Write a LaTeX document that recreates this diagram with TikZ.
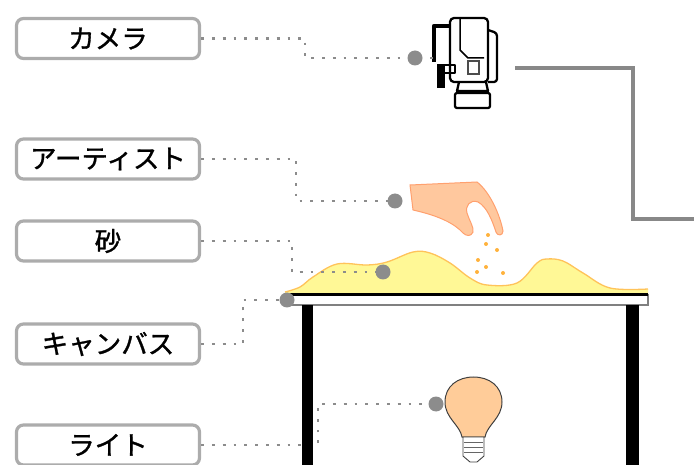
\documentclass[tikz,border=0pt]{standalone}
\usepackage{fontspec}
\newfontfamily\jpfont[FakeBold=1.2]{Noto Sans CJK JP}
\definecolor{boxgray}{RGB}{172,172,172}
\definecolor{dotgray}{RGB}{140,140,140}
\definecolor{linegray}{RGB}{136,136,136}
\definecolor{sandfill}{RGB}{255,248,150}
\definecolor{sandedge}{RGB}{255,195,90}
\definecolor{skin}{RGB}{255,200,158}
\definecolor{skinedge}{RGB}{255,160,110}
\definecolor{grain}{RGB}{255,178,60}
\definecolor{bulbfill}{RGB}{255,204,153}
\begin{document}
\begin{tikzpicture}[x=1pt,y=-1pt,
  lbl/.style={draw=boxgray, line width=3.2pt, rounded corners=7pt, fill=white,
    minimum width=183pt, minimum height=40pt, inner sep=0pt,
    font=\jpfont\fontsize{26.5}{30}\selectfont, text=black},
  conn/.style={draw=dotgray, line width=2.8pt, dash pattern=on 2.8pt off 8pt},
  pin/.style={circle, fill=dotgray, minimum size=15pt, inner sep=0pt},
  cam/.style={draw=black, line width=2.3pt, line join=round},
]
\useasboundingbox (0,0) rectangle (694,465);

% labels
\node[lbl] (camlbl) at (108,38.5) {カメラ};
\node[lbl] (artlbl) at (108,159) {アーティスト};
\node[lbl] (sandlbl) at (108,241) {砂};
\node[lbl] (canlbl) at (108,344) {キャンバス};
\node[lbl] (litlbl) at (108,445) {ライト};

% bend points of the leader lines
\coordinate (camk) at (305,48);
\coordinate (artk) at (296,180);
\coordinate (sandk) at (292,256);
\coordinate (cank) at (243,320);
\coordinate (litk) at (318,425);

% output line from the camera
\coordinate (camout) at (515,68);
\coordinate (lineturn) at (633,140);
\coordinate (lineend) at (694,219);
\draw[linegray, line width=3.2pt] (camout) -| (lineturn) |- (lineend);

% sand heap
\fill[sandfill] plot[smooth, tension=0.6] coordinates {(285,292) (300,287) (313,277) (337,264) (367,265) (387,262) (413,252) (430,253) (450,263) (470,278) (487,285) (517,283) (537,263) (547,259) (563,261) (583,273) (610,288) (648,289)} -- (648,294) -- (285,294) -- cycle;
\draw[sandedge, line width=1.3pt] plot[smooth, tension=0.6] coordinates {(285,292) (300,287) (313,277) (337,264) (367,265) (387,262) (413,252) (430,253) (450,263) (470,278) (487,285) (517,283) (537,263) (547,259) (563,261) (583,273) (610,288) (648,289)};

% table top
\draw[draw=gray, line width=1.2pt, fill=white] (288,294.5) rectangle (648,305);
\draw[black, line width=2.2pt] (288,294.5) -- (648,294.5);

% hand
\filldraw[fill=skin, draw=skinedge, line width=1pt]
  (410,185) -- (477,182)
  .. controls (490,192) and (500,215) .. (503,231)
  .. controls (503,236) and (497,236) .. (496,232)
  .. controls (492,220) and (487,207) .. (478,202)
  .. controls (470,199) and (465,206) .. (467,213)
  .. controls (469,220) and (474,227) .. (473,232)
  .. controls (471,237) and (466,236) .. (463,233)
  .. controls (455,224) and (440,216) .. (413,210) -- cycle;

% falling grains
\foreach \p in {(488,235),(486,244),(497,250),(478,260),(486,267),(477,272),(503,273)}
  \fill[grain] \p circle (2);

% light bulb
\filldraw[fill=bulbfill, draw=black!75, line width=1pt]
  (462,437) .. controls (460,425) and (445,418) .. (445,402)
  .. controls (445,386) and (458,377) .. (473.5,377)
  .. controls (489,377) and (502,386) .. (502,402)
  .. controls (502,418) and (487,425) .. (485,437) -- cycle;
\filldraw[fill=white, draw=black!75, line width=0.9pt]
  (463,437) -- (484,437) -- (484,456) -- (477,462) -- (470,462) -- (463,456) -- cycle;
\foreach \yy in {442,447,452}
  \draw[black!60, line width=0.8pt] (464,\yy) -- (483,\yy);

% video camera
\draw[cam, rounded corners=4pt] (450,82) -- (450,18) -- (488,18) -- (488,82) -- cycle;
\draw[cam, rounded corners=3pt] (488,30) -- (497,33) -- (497,82) -- (488,82);
\draw[cam, line width=1.5pt] (460,19) -- (460,50) -- (468,58) -- (484,58);
\draw[black!70, line width=1.5pt] (468,61) rectangle (479,74);
\draw[black, line width=4.5pt, line join=round] (434,62) -- (434,26) -- (450,26);
\draw[cam] (440,65) rectangle (455,73);
\fill[black] (437,64) rectangle (445,88);
\draw[cam] (459,82) -- (457,91) -- (488,91) -- (486,82);
\draw[cam, rounded corners=2pt] (455,93) rectangle (490,108);

% leader lines
\draw[conn] (camlbl.east) -| (camk) |- (436,58);
\draw[conn] (artlbl.east) -| (artk) |- (395,201);
\draw[conn] (sandlbl.east) -| (sandk) |- (383,272);
\draw[conn] (canlbl.east) -| (cank) |- (287,300);
\draw[conn] (litlbl.east) -| (litk) |- (436,404);

% table legs
\fill[black] (302,305.5) rectangle (313,466);
\fill[black] (626,305.5) rectangle (639,466);

% pins
\node[pin] (campin) at (415,58) {};
\node[pin] (artpin) at (395,201) {};
\node[pin] (sandpin) at (383,272) {};
\node[pin] (canpin) at (287,300) {};
\node[pin] (litpin) at (436,404) {};
\end{tikzpicture}
\end{document}
